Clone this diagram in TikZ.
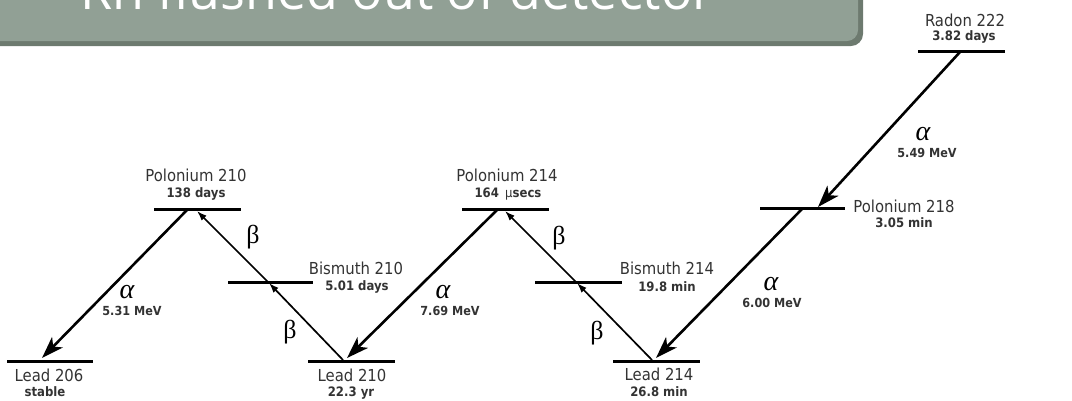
\documentclass[tikz,border=0pt]{standalone}
\usepackage{fontspec}
\setmainfont{DejaVu Sans Condensed}
\newfontfamily\titlefont{Open Sans}
\newfontfamily\greekfont{Liberation Serif}
\usetikzlibrary{arrows.meta}
\definecolor{bannerfill}{HTML}{91A095}
\definecolor{bannerdark}{HTML}{6D7A6F}
\begin{document}
\begin{tikzpicture}[x=1pt,y=-1pt,
  bar/.style={line width=3pt},
  alphaarrow/.style={line width=2.6pt,-{Stealth[length=22pt,width=15pt,inset=6pt]}},
  betaarrow/.style={line width=1.7pt,-{Latex[length=10pt,width=7pt]}},
  isotope/.style={inner sep=0pt,font=\fontsize{16.5}{16.5}\selectfont,text=black!80},
  halflife/.style={inner sep=0pt,font=\fontsize{13}{13}\selectfont\bfseries,text=black!80},
  alphalbl/.style={inner sep=0pt,font=\fontsize{28}{28}\selectfont\greekfont\itshape},
  betalbl/.style={inner sep=0pt,font=\fontsize{26}{26}\selectfont\greekfont},
  energy/.style={inner sep=0pt,font=\fontsize{12.5}{12.5}\selectfont\bfseries,text=black!80}]
\useasboundingbox (0,0) rectangle (1072,400);

% title banner
\fill[bannerdark,rounded corners=12pt] (-20,-30) rectangle (863,46);
\fill[bannerfill,rounded corners=11pt] (-20,-30) rectangle (858,41);
\node[anchor=base west,inner sep=0pt,text=white,font=\fontsize{52}{52}\selectfont\titlefont] (title) at (80,9) {Rn flushed out of detector};

% energy levels
\draw[bar] (7,361) -- (93,361);     % Lead 206
\draw[bar] (154,209) -- (241,209);  % Polonium 210
\draw[bar] (228,282) -- (313,282);  % Bismuth 210
\draw[bar] (308,361) -- (395,361);  % Lead 210
\draw[bar] (462,209) -- (549,209);  % Polonium 214
\draw[bar] (535,282) -- (622,282);  % Bismuth 214
\draw[bar] (613,361) -- (700,361);  % Lead 214
\draw[bar] (760,208) -- (845,208);  % Polonium 218
\draw[bar] (918,51) -- (1005,51);   % Radon 222

% level labels
\node[isotope] (n206) at (49,375) {Lead 206};
\node[halflife] (h206) at (45,392) {stable};
\node[isotope] (np210) at (196,175) {Polonium 210};
\node[halflife] (hp210) at (196,194) {138 days};
\node[isotope] (nb210) at (356,268) {Bismuth 210};
\node[halflife] (hb210) at (357,287) {5.01 days};
\node[isotope] (n210) at (352,375) {Lead 210};
\node[halflife] (h210) at (351,393) {22.3 yr};
\node[isotope] (np214) at (507,175) {Polonium 214};
\node[halflife] (hp214) at (508,194) {164 \,{\mdseries μ}secs};
\node[isotope] (nb214) at (667,268) {Bismuth 214};
\node[halflife] (hb214) at (667,287) {19.8 min};
\node[isotope] (n214) at (659,374) {Lead 214};
\node[halflife] (h214) at (659,392) {26.8 min};
\node[isotope] (np218) at (904,206) {Polonium 218};
\node[halflife] (hp218) at (904,223) {3.05 min};
\node[isotope] (nrn) at (965,20) {Radon 222};
\node[halflife] (hrn) at (964,37) {3.82 days};

% arrow end points on the levels
\coordinate (pb206) at (42,358);
\coordinate (po210a) at (187,210);
\coordinate (po210b) at (197,211);
\coordinate (bi210) at (269,283);
\coordinate (pb210a) at (343,360);
\coordinate (pb210b) at (347,358);
\coordinate (po214a) at (497,210);
\coordinate (po214b) at (505,211);
\coordinate (bi214) at (577,283);
\coordinate (pb214a) at (652,360);
\coordinate (pb214b) at (656,358);
\coordinate (po218a) at (802,209);
\coordinate (po218b) at (818,207);
\coordinate (rn222) at (960,52);

% decays
\draw[alphaarrow] (rn222) -- (po218b);
\draw[alphaarrow] (po218a) -- (pb214b);
\draw[betaarrow] (pb214a) -- (bi214);
\draw[betaarrow] (bi214) -- (po214b);
\draw[alphaarrow] (po214a) -- (pb210b);
\draw[betaarrow] (pb210a) -- (bi210);
\draw[betaarrow] (bi210) -- (po210b);
\draw[alphaarrow] (po210a) -- (pb206);

% decay labels
\node[alphalbl] (a1) at (127,292) {α};
\node[energy] (e1) at (132,311) {5.31 MeV};
\node[alphalbl] (a2) at (443,292) {α};
\node[energy] (e2) at (450,311) {7.69 MeV};
\node[alphalbl] (a3) at (771,284) {α};
\node[energy] (e3) at (772,303) {6.00 MeV};
\node[alphalbl] (a4) at (923,134) {α};
\node[energy] (e4) at (927,153) {5.49 MeV};
\node[betalbl] (b1) at (253,237) {β};
\node[betalbl] (b2) at (290,332) {β};
\node[betalbl] (b3) at (559,238) {β};
\node[betalbl] (b4) at (597,333) {β};
\end{tikzpicture}
\end{document}
